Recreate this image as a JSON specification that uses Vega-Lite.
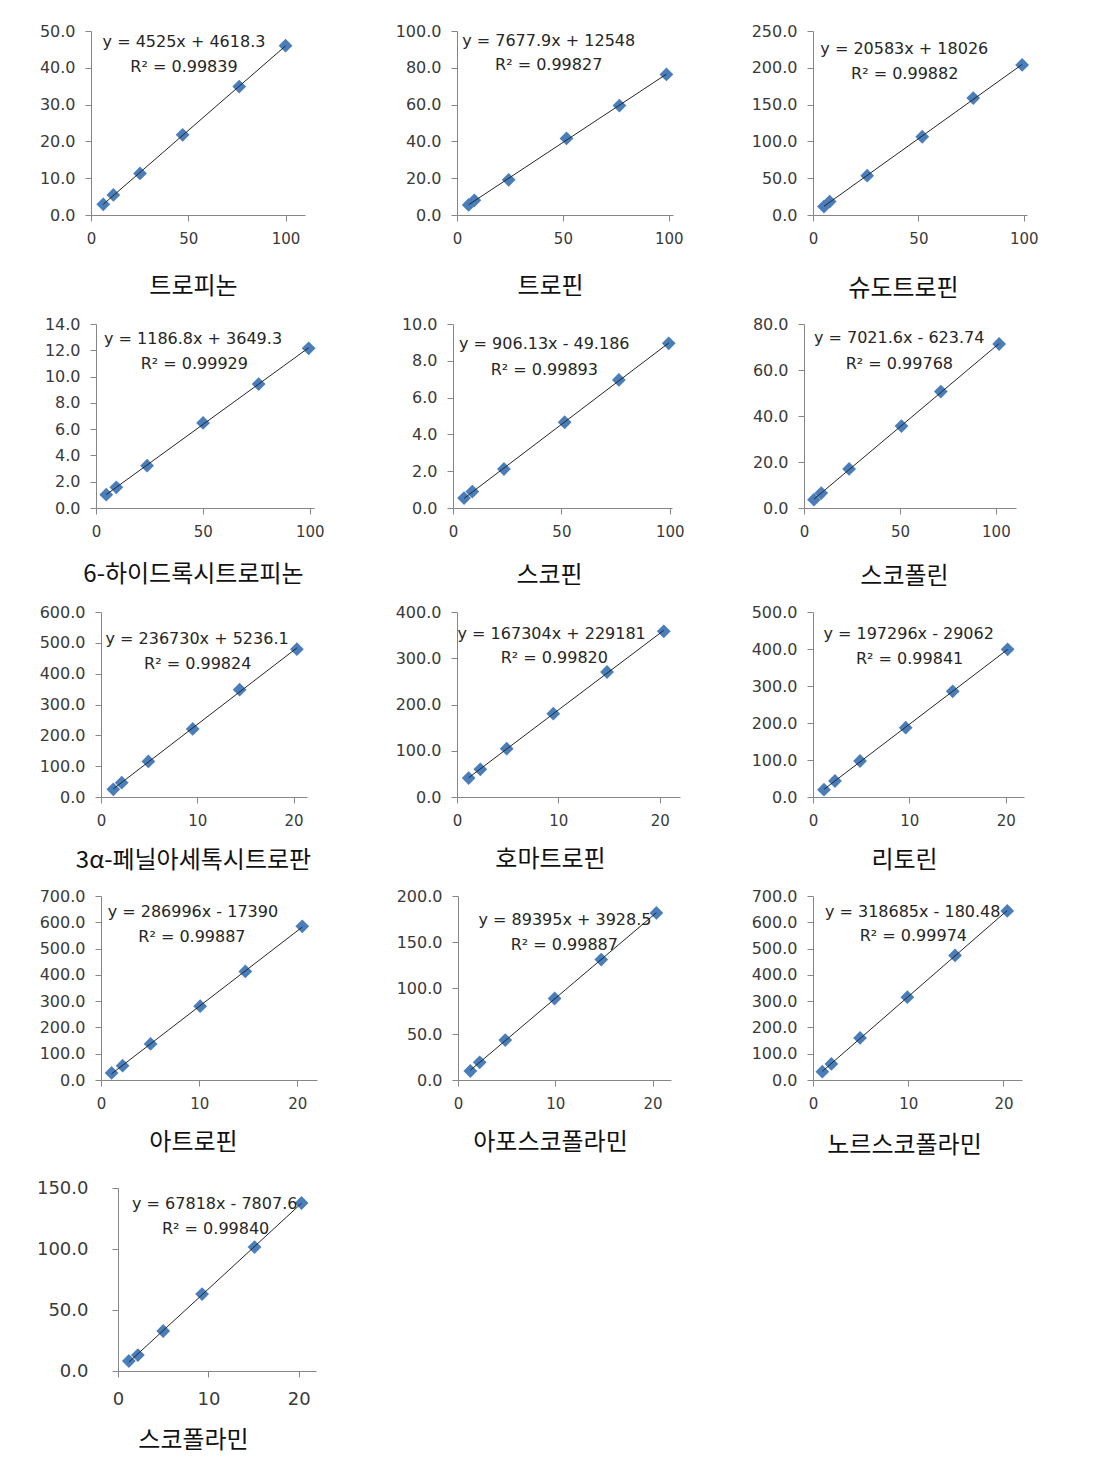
{
  "$schema": "https://vega.github.io/schema/vega-lite/v6.json",
  "autosize": {"type": "pad"},
  "padding": {"left": 36, "top": 23, "right": 10, "bottom": 10},
  "background": "white",
  "config": {
    "view": {"stroke": null},
    "font": "DejaVu Sans",
    "axis": {
      "grid": false, "domainColor": "#868686", "tickColor": "#868686", "tickSize": 6,
      "domainWidth": 1, "tickWidth": 1,
      "labelFont": "DejaVu Sans", "labelFontSize": 15, "labelColor": "#3a3a3a",
      "titleFont": "Noto Sans CJK KR", "titleFontSize": 24, "titleFontWeight": "normal", "titleColor": "#111111"
    },
    "axisX": {"labelPadding": 10, "titleBaseline": "middle", "titleAlign": "center", "labelFlush": false, "labelOverlap": false, "labelBound": false},
    "axisY": {"labelPadding": 10, "labelFontSize": 16, "labelOverlap": false, "labelFlush": false}
  },
  "datasets": {
    "points": [
      {"panel": "p1", "x": 6.3, "y": 2.9}, {"panel": "p1", "x": 11.5, "y": 5.45}, {"panel": "p1", "x": 25.2, "y": 11.3}, {"panel": "p1", "x": 47.1, "y": 21.8}, {"panel": "p1", "x": 76.2, "y": 34.9}, {"panel": "p1", "x": 100, "y": 46.0},
      {"panel": "p2", "x": 5.5, "y": 5.5}, {"panel": "p2", "x": 8.2, "y": 8.0}, {"panel": "p2", "x": 24.4, "y": 19.1}, {"panel": "p2", "x": 51.7, "y": 41.6}, {"panel": "p2", "x": 76.7, "y": 59.5}, {"panel": "p2", "x": 98.9, "y": 76.4},
      {"panel": "p3", "x": 5.2, "y": 11.4}, {"panel": "p3", "x": 7.9, "y": 18.2}, {"panel": "p3", "x": 25.7, "y": 53.4}, {"panel": "p3", "x": 51.8, "y": 106.3}, {"panel": "p3", "x": 76.0, "y": 158.8}, {"panel": "p3", "x": 99.2, "y": 203.9},
      {"panel": "p4", "x": 4.8, "y": 1.01}, {"panel": "p4", "x": 9.5, "y": 1.57}, {"panel": "p4", "x": 23.9, "y": 3.22}, {"panel": "p4", "x": 50.1, "y": 6.47}, {"panel": "p4", "x": 76.1, "y": 9.43}, {"panel": "p4", "x": 99.5, "y": 12.15},
      {"panel": "p5", "x": 5.1, "y": 0.54}, {"panel": "p5", "x": 8.9, "y": 0.89}, {"panel": "p5", "x": 23.5, "y": 2.12}, {"panel": "p5", "x": 51.5, "y": 4.66}, {"panel": "p5", "x": 76.5, "y": 6.96}, {"panel": "p5", "x": 99.5, "y": 8.95},
      {"panel": "p6", "x": 5.2, "y": 3.6}, {"panel": "p6", "x": 9.0, "y": 6.5}, {"panel": "p6", "x": 23.5, "y": 17.0}, {"panel": "p6", "x": 50.8, "y": 35.6}, {"panel": "p6", "x": 71.3, "y": 50.6}, {"panel": "p6", "x": 101.7, "y": 71.3},
      {"panel": "p7", "x": 1.28, "y": 24.8}, {"panel": "p7", "x": 2.15, "y": 46.3}, {"panel": "p7", "x": 4.92, "y": 115.3}, {"panel": "p7", "x": 9.53, "y": 220.9}, {"panel": "p7", "x": 14.4, "y": 348}, {"panel": "p7", "x": 20.35, "y": 479.5},
      {"panel": "p8", "x": 1.15, "y": 41}, {"panel": "p8", "x": 2.3, "y": 59.8}, {"panel": "p8", "x": 4.9, "y": 104.5}, {"panel": "p8", "x": 9.5, "y": 180.2}, {"panel": "p8", "x": 14.8, "y": 270.3}, {"panel": "p8", "x": 20.4, "y": 358.2},
      {"panel": "p9", "x": 1.14, "y": 19.8}, {"panel": "p9", "x": 2.28, "y": 43.2}, {"panel": "p9", "x": 4.88, "y": 97.3}, {"panel": "p9", "x": 9.62, "y": 187.4}, {"panel": "p9", "x": 14.5, "y": 285.6}, {"panel": "p9", "x": 20.2, "y": 399.1},
      {"panel": "p10", "x": 1.08, "y": 26.7}, {"panel": "p10", "x": 2.2, "y": 54.6}, {"panel": "p10", "x": 5.05, "y": 137.2}, {"panel": "p10", "x": 10.1, "y": 280.8}, {"panel": "p10", "x": 14.7, "y": 413}, {"panel": "p10", "x": 20.5, "y": 584.5},
      {"panel": "p11", "x": 1.27, "y": 9.8}, {"panel": "p11", "x": 2.23, "y": 19.2}, {"panel": "p11", "x": 4.86, "y": 43.4}, {"panel": "p11", "x": 9.93, "y": 88.6}, {"panel": "p11", "x": 14.73, "y": 130.9}, {"panel": "p11", "x": 20.4, "y": 181.6},
      {"panel": "p12", "x": 0.98, "y": 31.8}, {"panel": "p12", "x": 1.93, "y": 61}, {"panel": "p12", "x": 4.94, "y": 160}, {"panel": "p12", "x": 9.91, "y": 315}, {"panel": "p12", "x": 14.92, "y": 474}, {"panel": "p12", "x": 20.4, "y": 643},
      {"panel": "p13", "x": 1.2, "y": 8.2}, {"panel": "p13", "x": 2.2, "y": 13.1}, {"panel": "p13", "x": 5.0, "y": 32.8}, {"panel": "p13", "x": 9.3, "y": 63.1}, {"panel": "p13", "x": 15.1, "y": 101.6}, {"panel": "p13", "x": 20.3, "y": 137.7}
    ],
    "notes": [
      {"panel": "p1", "x": 47.8, "y": 47.0, "text": "y = 4525x + 4618.3"}, {"panel": "p1", "x": 47.8, "y": 40.2, "text": "R² = 0.99839"},
      {"panel": "p2", "x": 43.3, "y": 94.5, "text": "y = 7677.9x + 12548"}, {"panel": "p2", "x": 43.3, "y": 81.3, "text": "R² = 0.99827"},
      {"panel": "p3", "x": 43.3, "y": 225.8, "text": "y = 20583x + 18026"}, {"panel": "p3", "x": 43.5, "y": 191.6, "text": "R² = 0.99882"},
      {"panel": "p4", "x": 45.4, "y": 12.86, "text": "y = 1186.8x + 3649.3"}, {"panel": "p4", "x": 46.0, "y": 10.96, "text": "R² = 0.99929"},
      {"panel": "p5", "x": 42.1, "y": 8.91, "text": "y = 906.13x - 49.186"}, {"panel": "p5", "x": 42.1, "y": 7.5, "text": "R² = 0.99893"},
      {"panel": "p6", "x": 49.6, "y": 73.7, "text": "y = 7021.6x - 623.74"}, {"panel": "p6", "x": 49.7, "y": 62.5, "text": "R² = 0.99768"},
      {"panel": "p7", "x": 9.98, "y": 514, "text": "y = 236730x + 5236.1"}, {"panel": "p7", "x": 10.05, "y": 431, "text": "R² = 0.99824"},
      {"panel": "p8", "x": 9.34, "y": 353, "text": "y = 167304x + 229181"}, {"panel": "p8", "x": 9.6, "y": 300.5, "text": "R² = 0.99820"},
      {"panel": "p9", "x": 9.93, "y": 441, "text": "y = 197296x - 29062"}, {"panel": "p9", "x": 10.03, "y": 374, "text": "R² = 0.99841"},
      {"panel": "p10", "x": 9.36, "y": 639, "text": "y = 286996x - 17390"}, {"panel": "p10", "x": 9.26, "y": 544, "text": "R² = 0.99887"},
      {"panel": "p11", "x": 11.0, "y": 173.6, "text": "y = 89395x + 3928.5"}, {"panel": "p11", "x": 10.93, "y": 147.2, "text": "R² = 0.99887"},
      {"panel": "p12", "x": 10.47, "y": 639, "text": "y = 318685x - 180.48"}, {"panel": "p12", "x": 10.54, "y": 546, "text": "R² = 0.99974"},
      {"panel": "p13", "x": 10.7, "y": 136.9, "text": "y = 67818x - 7807.6"}, {"panel": "p13", "x": 10.8, "y": 116.4, "text": "R² = 0.99840"}
    ]
  },
  "spacing": 16,
  "vconcat": [
    {
      "hconcat": [
        {
          "width": 214, "height": 184,
          "encoding": {
            "x": {"field": "x", "type": "quantitative", "scale": {"domain": [0, 110], "nice": false, "zero": false}, "axis": {"values": [0, 50, 100], "title": "트로피논", "titleX": 102, "titleY": 71}},
            "y": {"field": "y", "type": "quantitative", "scale": {"domain": [0, 50], "nice": false}, "axis": {"values": [0, 10, 20, 30, 40, 50], "format": ".1f", "title": null}}
          },
          "layer": [
            {"data": {"name": "points"}, "transform": [{"filter": "datum.panel === 'p1'"}], "mark": {"type": "point", "shape": "diamond", "filled": true, "size": 190, "color": "#4A7EBB", "opacity": 1}},
            {"data": {"name": "points"}, "transform": [{"filter": "datum.panel === 'p1'"}, {"regression": "y", "on": "x"}], "mark": {"type": "line", "color": "#262626", "strokeWidth": 1}, "encoding": {}},
            {"data": {"name": "notes"}, "transform": [{"filter": "datum.panel === 'p1'"}], "mark": {"type": "text", "font": "DejaVu Sans", "fontSize": 16, "color": "#262626", "align": "center", "baseline": "middle"}, "encoding": {"text": {"field": "text", "type": "nominal"}}}
          ]
        },
        {"width": 152, "height": 184, "data": {"values": []}, "mark": "text", "encoding": {}},
        {
          "width": 216, "height": 184,
          "encoding": {
            "x": {"field": "x", "type": "quantitative", "scale": {"domain": [0, 102], "nice": false, "zero": false}, "axis": {"values": [0, 50, 100], "title": "트로핀", "titleX": 93, "titleY": 71}},
            "y": {"field": "y", "type": "quantitative", "scale": {"domain": [0, 100], "nice": false}, "axis": {"values": [0, 20, 40, 60, 80, 100], "format": ".1f", "title": null}}
          },
          "layer": [
            {"data": {"name": "points"}, "transform": [{"filter": "datum.panel === 'p2'"}], "mark": {"type": "point", "shape": "diamond", "filled": true, "size": 190, "color": "#4A7EBB", "opacity": 1}},
            {"data": {"name": "points"}, "transform": [{"filter": "datum.panel === 'p2'"}, {"regression": "y", "on": "x"}], "mark": {"type": "line", "color": "#262626", "strokeWidth": 1}, "encoding": {}},
            {"data": {"name": "notes"}, "transform": [{"filter": "datum.panel === 'p2'"}], "mark": {"type": "text", "font": "DejaVu Sans", "fontSize": 16, "color": "#262626", "align": "center", "baseline": "middle"}, "encoding": {"text": {"field": "text", "type": "nominal"}}}
          ]
        },
        {"width": 140, "height": 184, "data": {"values": []}, "mark": "text", "encoding": {}},
        {
          "width": 214, "height": 184,
          "encoding": {
            "x": {"field": "x", "type": "quantitative", "scale": {"domain": [0, 101.5], "nice": false, "zero": false}, "axis": {"values": [0, 50, 100], "title": "슈도트로핀", "titleX": 90, "titleY": 73}},
            "y": {"field": "y", "type": "quantitative", "scale": {"domain": [0, 250], "nice": false}, "axis": {"values": [0, 50, 100, 150, 200, 250], "format": ".1f", "title": null}}
          },
          "layer": [
            {"data": {"name": "points"}, "transform": [{"filter": "datum.panel === 'p3'"}], "mark": {"type": "point", "shape": "diamond", "filled": true, "size": 190, "color": "#4A7EBB", "opacity": 1}},
            {"data": {"name": "points"}, "transform": [{"filter": "datum.panel === 'p3'"}, {"regression": "y", "on": "x"}], "mark": {"type": "line", "color": "#262626", "strokeWidth": 1}, "encoding": {}},
            {"data": {"name": "notes"}, "transform": [{"filter": "datum.panel === 'p3'"}], "mark": {"type": "text", "font": "DejaVu Sans", "fontSize": 16, "color": "#262626", "align": "center", "baseline": "middle"}, "encoding": {"text": {"field": "text", "type": "nominal"}}}
          ]
        }
      ],
      "spacing": 0, "bounds": "flush"
    },
    {
      "hconcat": [
        {"width": 5, "height": 184, "data": {"values": []}, "mark": "text", "encoding": {}},
        {
          "width": 218, "height": 184,
          "encoding": {
            "x": {"field": "x", "type": "quantitative", "scale": {"domain": [0, 102], "nice": false, "zero": false}, "axis": {"values": [0, 50, 100], "title": "6-하이드록시트로피논", "titleX": 97, "titleY": 66}},
            "y": {"field": "y", "type": "quantitative", "scale": {"domain": [0, 14], "nice": false}, "axis": {"values": [0, 2, 4, 6, 8, 10, 12, 14], "format": ".1f", "title": null}}
          },
          "layer": [
            {"data": {"name": "points"}, "transform": [{"filter": "datum.panel === 'p4'"}], "mark": {"type": "point", "shape": "diamond", "filled": true, "size": 190, "color": "#4A7EBB", "opacity": 1}},
            {"data": {"name": "points"}, "transform": [{"filter": "datum.panel === 'p4'"}, {"regression": "y", "on": "x"}], "mark": {"type": "line", "color": "#262626", "strokeWidth": 1}, "encoding": {}},
            {"data": {"name": "notes"}, "transform": [{"filter": "datum.panel === 'p4'"}], "mark": {"type": "text", "font": "DejaVu Sans", "fontSize": 16, "color": "#262626", "align": "center", "baseline": "middle"}, "encoding": {"text": {"field": "text", "type": "nominal"}}}
          ]
        },
        {"width": 139, "height": 184, "data": {"values": []}, "mark": "text", "encoding": {}},
        {
          "width": 219, "height": 184,
          "encoding": {
            "x": {"field": "x", "type": "quantitative", "scale": {"domain": [0, 101], "nice": false, "zero": false}, "axis": {"values": [0, 50, 100], "title": "스코핀", "titleX": 96, "titleY": 67}},
            "y": {"field": "y", "type": "quantitative", "scale": {"domain": [0, 10], "nice": false}, "axis": {"values": [0, 2, 4, 6, 8, 10], "format": ".1f", "title": null}}
          },
          "layer": [
            {"data": {"name": "points"}, "transform": [{"filter": "datum.panel === 'p5'"}], "mark": {"type": "point", "shape": "diamond", "filled": true, "size": 190, "color": "#4A7EBB", "opacity": 1}},
            {"data": {"name": "points"}, "transform": [{"filter": "datum.panel === 'p5'"}, {"regression": "y", "on": "x"}], "mark": {"type": "line", "color": "#262626", "strokeWidth": 1}, "encoding": {}},
            {"data": {"name": "notes"}, "transform": [{"filter": "datum.panel === 'p5'"}], "mark": {"type": "text", "font": "DejaVu Sans", "fontSize": 16, "color": "#262626", "align": "center", "baseline": "middle"}, "encoding": {"text": {"field": "text", "type": "nominal"}}}
          ]
        },
        {"width": 132, "height": 184, "data": {"values": []}, "mark": "text", "encoding": {}},
        {
          "width": 212, "height": 184,
          "encoding": {
            "x": {"field": "x", "type": "quantitative", "scale": {"domain": [0, 110.5], "nice": false, "zero": false}, "axis": {"values": [0, 50, 100], "title": "스코폴린", "titleX": 100, "titleY": 68}},
            "y": {"field": "y", "type": "quantitative", "scale": {"domain": [0, 80], "nice": false}, "axis": {"values": [0, 20, 40, 60, 80], "format": ".1f", "title": null}}
          },
          "layer": [
            {"data": {"name": "points"}, "transform": [{"filter": "datum.panel === 'p6'"}], "mark": {"type": "point", "shape": "diamond", "filled": true, "size": 190, "color": "#4A7EBB", "opacity": 1}},
            {"data": {"name": "points"}, "transform": [{"filter": "datum.panel === 'p6'"}, {"regression": "y", "on": "x"}], "mark": {"type": "line", "color": "#262626", "strokeWidth": 1}, "encoding": {}},
            {"data": {"name": "notes"}, "transform": [{"filter": "datum.panel === 'p6'"}], "mark": {"type": "text", "font": "DejaVu Sans", "fontSize": 16, "color": "#262626", "align": "center", "baseline": "middle"}, "encoding": {"text": {"field": "text", "type": "nominal"}}}
          ]
        }
      ],
      "spacing": 0, "bounds": "flush"
    },
    {
      "hconcat": [
        {"width": 10, "height": 185, "data": {"values": []}, "mark": "text", "encoding": {}},
        {
          "width": 206, "height": 185,
          "encoding": {
            "x": {"field": "x", "type": "quantitative", "scale": {"domain": [0, 21.4], "nice": false, "zero": false}, "axis": {"values": [0, 10, 20], "title": "3α-페닐아세톡시트로판", "titleX": 92, "titleY": 63}},
            "y": {"field": "y", "type": "quantitative", "scale": {"domain": [0, 600], "nice": false}, "axis": {"values": [0, 100, 200, 300, 400, 500, 600], "format": ".1f", "title": null}}
          },
          "layer": [
            {"data": {"name": "points"}, "transform": [{"filter": "datum.panel === 'p7'"}], "mark": {"type": "point", "shape": "diamond", "filled": true, "size": 190, "color": "#4A7EBB", "opacity": 1}},
            {"data": {"name": "points"}, "transform": [{"filter": "datum.panel === 'p7'"}, {"regression": "y", "on": "x"}], "mark": {"type": "line", "color": "#262626", "strokeWidth": 1}, "encoding": {}},
            {"data": {"name": "notes"}, "transform": [{"filter": "datum.panel === 'p7'"}], "mark": {"type": "text", "font": "DejaVu Sans", "fontSize": 16, "color": "#262626", "align": "center", "baseline": "middle"}, "encoding": {"text": {"field": "text", "type": "nominal"}}}
          ]
        },
        {"width": 150, "height": 185, "data": {"values": []}, "mark": "text", "encoding": {}},
        {
          "width": 223, "height": 185,
          "encoding": {
            "x": {"field": "x", "type": "quantitative", "scale": {"domain": [0, 22], "nice": false, "zero": false}, "axis": {"values": [0, 10, 20], "title": "호마트로핀", "titleX": 93, "titleY": 62}},
            "y": {"field": "y", "type": "quantitative", "scale": {"domain": [0, 400], "nice": false}, "axis": {"values": [0, 100, 200, 300, 400], "format": ".1f", "title": null}}
          },
          "layer": [
            {"data": {"name": "points"}, "transform": [{"filter": "datum.panel === 'p8'"}], "mark": {"type": "point", "shape": "diamond", "filled": true, "size": 190, "color": "#4A7EBB", "opacity": 1}},
            {"data": {"name": "points"}, "transform": [{"filter": "datum.panel === 'p8'"}, {"regression": "y", "on": "x"}], "mark": {"type": "line", "color": "#262626", "strokeWidth": 1}, "encoding": {}},
            {"data": {"name": "notes"}, "transform": [{"filter": "datum.panel === 'p8'"}], "mark": {"type": "text", "font": "DejaVu Sans", "fontSize": 16, "color": "#262626", "align": "center", "baseline": "middle"}, "encoding": {"text": {"field": "text", "type": "nominal"}}}
          ]
        },
        {"width": 133, "height": 185, "data": {"values": []}, "mark": "text", "encoding": {}},
        {
          "width": 211, "height": 185,
          "encoding": {
            "x": {"field": "x", "type": "quantitative", "scale": {"domain": [0, 21.9], "nice": false, "zero": false}, "axis": {"values": [0, 10, 20], "title": "리토린", "titleX": 91, "titleY": 63}},
            "y": {"field": "y", "type": "quantitative", "scale": {"domain": [0, 500], "nice": false}, "axis": {"values": [0, 100, 200, 300, 400, 500], "format": ".1f", "title": null}}
          },
          "layer": [
            {"data": {"name": "points"}, "transform": [{"filter": "datum.panel === 'p9'"}], "mark": {"type": "point", "shape": "diamond", "filled": true, "size": 190, "color": "#4A7EBB", "opacity": 1}},
            {"data": {"name": "points"}, "transform": [{"filter": "datum.panel === 'p9'"}, {"regression": "y", "on": "x"}], "mark": {"type": "line", "color": "#262626", "strokeWidth": 1}, "encoding": {}},
            {"data": {"name": "notes"}, "transform": [{"filter": "datum.panel === 'p9'"}], "mark": {"type": "text", "font": "DejaVu Sans", "fontSize": 16, "color": "#262626", "align": "center", "baseline": "middle"}, "encoding": {"text": {"field": "text", "type": "nominal"}}}
          ]
        }
      ],
      "spacing": 0, "bounds": "flush"
    },
    {
      "hconcat": [
        {"width": 10, "height": 267, "data": {"values": []}, "mark": "text", "encoding": {}},
        {
          "width": 216, "height": 184,
          "encoding": {
            "x": {"field": "x", "type": "quantitative", "scale": {"domain": [0, 22], "nice": false, "zero": false}, "axis": {"values": [0, 10, 20], "title": "아트로핀", "titleX": 92, "titleY": 62}},
            "y": {"field": "y", "type": "quantitative", "scale": {"domain": [0, 700], "nice": false}, "axis": {"values": [0, 100, 200, 300, 400, 500, 600, 700], "format": ".1f", "title": null}}
          },
          "layer": [
            {"data": {"name": "points"}, "transform": [{"filter": "datum.panel === 'p10'"}], "mark": {"type": "point", "shape": "diamond", "filled": true, "size": 190, "color": "#4A7EBB", "opacity": 1}},
            {"data": {"name": "points"}, "transform": [{"filter": "datum.panel === 'p10'"}, {"regression": "y", "on": "x"}], "mark": {"type": "line", "color": "#262626", "strokeWidth": 1}, "encoding": {}},
            {"data": {"name": "notes"}, "transform": [{"filter": "datum.panel === 'p10'"}], "mark": {"type": "text", "font": "DejaVu Sans", "fontSize": 16, "color": "#262626", "align": "center", "baseline": "middle"}, "encoding": {"text": {"field": "text", "type": "nominal"}}}
          ]
        },
        {"width": 141, "height": 184, "data": {"values": []}, "mark": "text", "encoding": {}},
        {
          "width": 213, "height": 184,
          "encoding": {
            "x": {"field": "x", "type": "quantitative", "scale": {"domain": [0, 21.9], "nice": false, "zero": false}, "axis": {"values": [0, 10, 20], "title": "아포스코폴라민", "titleX": 92, "titleY": 62}},
            "y": {"field": "y", "type": "quantitative", "scale": {"domain": [0, 200], "nice": false}, "axis": {"values": [0, 50, 100, 150, 200], "format": ".1f", "title": null}}
          },
          "layer": [
            {"data": {"name": "points"}, "transform": [{"filter": "datum.panel === 'p11'"}], "mark": {"type": "point", "shape": "diamond", "filled": true, "size": 190, "color": "#4A7EBB", "opacity": 1}},
            {"data": {"name": "points"}, "transform": [{"filter": "datum.panel === 'p11'"}, {"regression": "y", "on": "x"}], "mark": {"type": "line", "color": "#262626", "strokeWidth": 1}, "encoding": {}},
            {"data": {"name": "notes"}, "transform": [{"filter": "datum.panel === 'p11'"}], "mark": {"type": "text", "font": "DejaVu Sans", "fontSize": 16, "color": "#262626", "align": "center", "baseline": "middle"}, "encoding": {"text": {"field": "text", "type": "nominal"}}}
          ]
        },
        {"width": 142, "height": 184, "data": {"values": []}, "mark": "text", "encoding": {}},
        {
          "width": 209, "height": 184,
          "encoding": {
            "x": {"field": "x", "type": "quantitative", "scale": {"domain": [0, 21.95], "nice": false, "zero": false}, "axis": {"values": [0, 10, 20], "title": "노르스코폴라민", "titleX": 91, "titleY": 65}},
            "y": {"field": "y", "type": "quantitative", "scale": {"domain": [0, 700], "nice": false}, "axis": {"values": [0, 100, 200, 300, 400, 500, 600, 700], "format": ".1f", "title": null}}
          },
          "layer": [
            {"data": {"name": "points"}, "transform": [{"filter": "datum.panel === 'p12'"}], "mark": {"type": "point", "shape": "diamond", "filled": true, "size": 190, "color": "#4A7EBB", "opacity": 1}},
            {"data": {"name": "points"}, "transform": [{"filter": "datum.panel === 'p12'"}, {"regression": "y", "on": "x"}], "mark": {"type": "line", "color": "#262626", "strokeWidth": 1}, "encoding": {}},
            {"data": {"name": "notes"}, "transform": [{"filter": "datum.panel === 'p12'"}], "mark": {"type": "text", "font": "DejaVu Sans", "fontSize": 16, "color": "#262626", "align": "center", "baseline": "middle"}, "encoding": {"text": {"field": "text", "type": "nominal"}}}
          ]
        }
      ],
      "spacing": 0, "bounds": "flush"
    },
    {
      "hconcat": [
        {"width": 27, "height": 183, "data": {"values": []}, "mark": "text", "encoding": {}},
        {
          "width": 198, "height": 183,
          "encoding": {
            "x": {"field": "x", "type": "quantitative", "scale": {"domain": [0, 21.9], "nice": false, "zero": false}, "axis": {"values": [0, 10, 20], "title": "스코폴라민", "titleX": 75, "titleY": 69, "labelFontSize": 18, "labelPadding": 13}},
            "y": {"field": "y", "type": "quantitative", "scale": {"domain": [0, 150], "nice": false}, "axis": {"values": [0, 50, 100, 150], "format": ".1f", "title": null, "labelFontSize": 18, "labelPadding": 24}}
          },
          "layer": [
            {"data": {"name": "points"}, "transform": [{"filter": "datum.panel === 'p13'"}], "mark": {"type": "point", "shape": "diamond", "filled": true, "size": 190, "color": "#4A7EBB", "opacity": 1}},
            {"data": {"name": "points"}, "transform": [{"filter": "datum.panel === 'p13'"}, {"regression": "y", "on": "x"}], "mark": {"type": "line", "color": "#262626", "strokeWidth": 1}, "encoding": {}},
            {"data": {"name": "notes"}, "transform": [{"filter": "datum.panel === 'p13'"}], "mark": {"type": "text", "font": "DejaVu Sans", "fontSize": 16, "color": "#262626", "align": "center", "baseline": "middle"}, "encoding": {"text": {"field": "text", "type": "nominal"}}}
          ]
        }
      ],
      "spacing": 0, "bounds": "flush"
    }
  ]
}
